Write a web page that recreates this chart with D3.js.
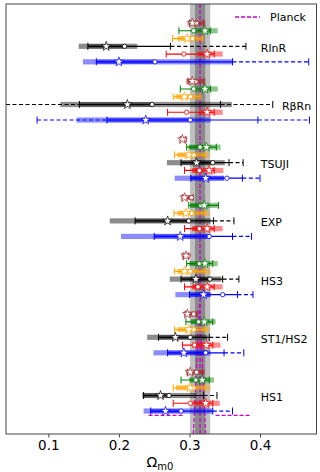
<!DOCTYPE html>
<html>
<head>
<meta charset="utf-8">
<script src="https://cdn.jsdelivr.net/npm/d3@7"></script>
<style>
  body { margin: 0; background: #fff; }
  text { font-family: "DejaVu Sans", sans-serif; }
</style>
</head>
<body>
<div id="chart"></div>
<script>
// groups top to bottom, series inside each group top to bottom
var groups = ["RlnR", "R\u03b2Rn", "TSUJI", "EXP", "HS3", "ST1/HS2", "HS1"];
var seriesNames = ["brown", "green", "orange", "black", "red", "blue"];
var xTicks = [0.1, 0.2, 0.3, 0.4];

// planck value and 1 sigma
var planckMean = 0.3150;
var planckSig = 0.0072;

// [series][group]
var starVals = [
  [0.304, 0.304, 0.290, 0.293, 0.295, 0.297, 0.301],
  [0.322, 0.322, 0.324, 0.321, 0.322, 0.321, 0.318],
  [0.297, 0.293, 0.299, 0.295, 0.293, 0.299, 0.301],
  [0.182, 0.212, 0.310, 0.269, 0.309, 0.280, 0.259],
  [0.325, 0.325, 0.328, 0.325, 0.325, 0.324, 0.323],
  [0.200, 0.238, 0.323, 0.287, 0.320, 0.292, 0.266]
];
var circVals = [
  [0.310, 0.309, 0.293, 0.303, 0.298, 0.306, 0.310],
  [0.306, 0.306, 0.315, 0.316, 0.314, 0.313, 0.309],
  [0.304, 0.301, 0.306, 0.303, 0.301, 0.306, 0.306],
  [0.208, 0.247, 0.333, 0.299, 0.329, 0.301, 0.271],
  [0.292, 0.296, 0.314, 0.314, 0.312, 0.307, 0.301],
  [0.251, 0.301, 0.353, 0.328, 0.347, 0.323, 0.288]
];
var bandLo = [
  [0.297, 0.295, 0.286, 0.288, 0.289, 0.292, 0.295],
  [0.306, 0.306, 0.299, 0.301, 0.300, 0.302, 0.300],
  [0.283, 0.280, 0.283, 0.283, 0.283, 0.283, 0.281],
  [0.143, 0.117, 0.268, 0.187, 0.272, 0.240, 0.233],
  [0.311, 0.313, 0.304, 0.304, 0.304, 0.304, 0.304],
  [0.149, 0.140, 0.279, 0.203, 0.280, 0.249, 0.235]
];
var bandHi = [
  [0.323, 0.323, 0.296, 0.306, 0.300, 0.312, 0.322],
  [0.340, 0.340, 0.344, 0.340, 0.340, 0.337, 0.335],
  [0.320, 0.317, 0.328, 0.328, 0.330, 0.328, 0.330],
  [0.226, 0.360, 0.350, 0.330, 0.345, 0.325, 0.310],
  [0.347, 0.347, 0.348, 0.347, 0.347, 0.344, 0.343],
  [0.361, 0.330, 0.349, 0.330, 0.330, 0.330, 0.333]
];
var capLo = [
  [0.300, 0.298, 0.287, 0.290, 0.291, 0.294, 0.297],
  [0.285, 0.287, 0.296, 0.299, 0.296, 0.295, 0.288],
  [0.276, 0.277, 0.279, 0.278, 0.279, 0.279, 0.277],
  [0.156, 0.144, 0.288, 0.223, 0.288, 0.256, 0.235],
  [0.267, 0.269, 0.293, 0.293, 0.293, 0.290, 0.277],
  [0.168, 0.183, 0.302, 0.250, 0.300, 0.269, 0.245]
];
var solidHi = [
  [0.320, 0.320, 0.295, 0.305, 0.299, 0.311, 0.318],
  [0.330, 0.330, 0.338, 0.341, 0.333, 0.333, 0.328],
  [0.318, 0.315, 0.322, 0.322, 0.322, 0.322, 0.322],
  [0.273, 0.344, 0.356, 0.334, 0.347, 0.328, 0.320],
  [0.335, 0.335, 0.335, 0.335, 0.335, 0.333, 0.333],
  [0.361, 0.397, 0.375, 0.361, 0.368, 0.349, 0.333]
];
// dashed extensions, only black and blue
var dashHi = [
  [null, null, null, null, null, null, null],
  [null, null, null, null, null, null, null],
  [null, null, null, null, null, null, null],
  [0.380, 0.418, 0.376, 0.363, 0.370, 0.354, 0.339],
  [null, null, null, null, null, null, null],
  [0.469, 0.470, 0.400, 0.388, 0.390, 0.377, 0.361]
];
var dashLo = [
  [null, null, null, null, null, null, null],
  [null, null, null, null, null, null, null],
  [null, null, null, null, null, null, null],
  [null, 0.040, null, null, null, null, null],
  [null, null, null, null, null, null, null],
  [null, 0.084, null, null, null, null, null]
];

// extra magenta dashed marks in the HS1 block
var magSegLo = [0.242, 0.337];
var magSegHi = [0.292, 0.387];
var magSpikeX = [0.3055, 0.3143, 0.3230];
var magSpikeRow = [52.96, 36.1, 52.96];

var colors = {brown: "#a52a2a", green: "#008000", orange: "#ffa500",
  black: "#000000", red: "#ff0000", blue: "#0000ff"};
var magenta = "#cc00cc";

var width = 320, height = 472;
var plotLeft = 6, plotRight = 316.5, plotTop = 4, plotBottom = 434;

var svg = d3.select("#chart").append("svg")
  .attr("width", width)
  .attr("height", height);

var x = d3.scaleLinear().domain([0.04, 0.48]).range([plotLeft, plotRight]);
// y is in "row" units: group g, series s -> g*7.5 + s
var y = d3.scaleLinear().domain([-2.45, 52.96]).range([plotTop, plotBottom]);

svg.append("clipPath").attr("id", "clip")
  .append("rect")
  .attr("x", plotLeft).attr("y", plotTop)
  .attr("width", plotRight - plotLeft).attr("height", plotBottom - plotTop);

var plot = svg.append("g").attr("clip-path", "url(#clip)");

// planck bands
plot.append("rect")
  .attr("x", x(planckMean - 2 * planckSig))
  .attr("width", x(planckMean + 2 * planckSig) - x(planckMean - 2 * planckSig))
  .attr("y", plotTop).attr("height", plotBottom - plotTop)
  .attr("fill", "#bfbfbf");
plot.append("rect")
  .attr("x", x(planckMean - planckSig))
  .attr("width", x(planckMean + planckSig) - x(planckMean - planckSig))
  .attr("y", plotTop).attr("height", plotBottom - plotTop)
  .attr("fill", "#8a8a8a");
plot.append("line")
  .attr("x1", x(planckMean)).attr("x2", x(planckMean))
  .attr("y1", plotTop).attr("y2", plotBottom)
  .attr("stroke", magenta).attr("stroke-width", 1.3)
  .attr("stroke-dasharray", "4,2");

var spike = d3.line()
  .x(function(d) { return x(d[0]); })
  .y(function(d) { return y(d[1]); });
plot.append("path")
  .attr("d", spike(magSpikeX.map(function(v, i) { return [v, magSpikeRow[i]]; })))
  .attr("fill", "none")
  .attr("stroke", magenta).attr("stroke-width", 1.2)
  .attr("stroke-dasharray", "4,2");

// build rows
var rows = [];
seriesNames.forEach(function(name, s) {
  groups.forEach(function(gname, g) {
    rows.push({
      color: colors[name],
      row: g * 7.5 + s,
      star: starVals[s][g], circ: circVals[s][g],
      bLo: bandLo[s][g], bHi: bandHi[s][g],
      cLo: capLo[s][g], sHi: solidHi[s][g],
      dLo: dashLo[s][g], dHi: dashHi[s][g]
    });
  });
});

var rowG = plot.selectAll("g.row").data(rows).enter().append("g")
  .attr("class", "row")
  .attr("transform", function(d) { return "translate(0," + y(d.row) + ")"; });

// wide translucent band
rowG.append("rect")
  .attr("x", function(d) { return x(d.bLo); })
  .attr("width", function(d) { return x(d.bHi) - x(d.bLo); })
  .attr("y", -2.6).attr("height", 5.2)
  .attr("fill", function(d) { return d.color; })
  .attr("opacity", 0.45);

// darker inner part between cap and circle
rowG.filter(function(d) { return Math.min(d.bHi, d.circ) > Math.max(d.bLo, d.cLo); })
  .append("rect")
  .attr("x", function(d) { return x(Math.max(d.bLo, d.cLo)); })
  .attr("width", function(d) { return x(Math.min(d.bHi, d.circ)) - x(Math.max(d.bLo, d.cLo)); })
  .attr("y", -2.2).attr("height", 4.4)
  .attr("fill", function(d) { return d.color; })
  .attr("opacity", 0.45);

// solid error line
rowG.append("line")
  .attr("x1", function(d) { return x(d.cLo); })
  .attr("x2", function(d) { return x(d.sHi); })
  .attr("stroke", function(d) { return d.color; })
  .attr("stroke-width", 1.2);

// caps
rowG.selectAll("line.cap")
  .data(function(d) {
    var c = [d.cLo, d.sHi];
    if (d.dHi != null) c.push(d.dHi);
    if (d.dLo != null && d.dLo > 0.045) c.push(d.dLo);
    return c.map(function(v) { return {v: v, color: d.color}; });
  })
  .enter().append("line")
  .attr("class", "cap")
  .attr("x1", function(c) { return x(c.v); })
  .attr("x2", function(c) { return x(c.v); })
  .attr("y1", -3.5).attr("y2", 3.5)
  .attr("stroke", function(c) { return c.color; })
  .attr("stroke-width", 1);

// dashed extensions
rowG.filter(function(d) { return d.dHi != null; })
  .append("line")
  .attr("x1", function(d) { return x(d.sHi); })
  .attr("x2", function(d) { return x(d.dHi); })
  .attr("stroke", function(d) { return d.color; })
  .attr("stroke-width", 1.2)
  .attr("stroke-dasharray", "4,2.5");
rowG.filter(function(d) { return d.dLo != null; })
  .append("line")
  .attr("x1", function(d) { return x(d.dLo); })
  .attr("x2", function(d) { return x(d.cLo); })
  .attr("stroke", function(d) { return d.color; })
  .attr("stroke-width", 1.2)
  .attr("stroke-dasharray", "4,2.5");

// markers
rowG.append("circle")
  .attr("cx", function(d) { return x(d.circ); })
  .attr("r", 2.2)
  .attr("fill", "#fff")
  .attr("stroke", function(d) { return d.color; })
  .attr("stroke-width", 0.8);
rowG.append("path")
  .attr("d", d3.symbol().type(d3.symbolStar).size(28))
  .attr("transform", function(d) { return "translate(" + x(d.star) + ",0)"; })
  .attr("fill", "#fff")
  .attr("stroke", function(d) { return d.color; })
  .attr("stroke-width", 0.7);

// magenta segments just below the HS1 blue row
var hsRow = 6 * 7.5 + 5.55;
magSegLo.forEach(function(lo, i) {
  plot.append("line")
    .attr("x1", x(lo)).attr("x2", x(magSegHi[i]))
    .attr("y1", y(hsRow)).attr("y2", y(hsRow))
    .attr("stroke", magenta).attr("stroke-width", 1.3)
    .attr("stroke-dasharray", "4,2");
});

// group labels, placed to the right of the black row dashes
svg.selectAll("text.glabel").data(groups).enter().append("text")
  .attr("class", "glabel")
  .attr("x", function(d, g) { return x(Math.max(0.401, dashHi[3][g] + 0.013)); })
  .attr("y", function(d, g) { return y(g * 7.5 + 3) + 5.5; })
  .attr("font-size", "11px")
  .text(function(d) { return d; });

// legend
svg.append("line")
  .attr("x1", 235).attr("x2", 260).attr("y1", 17).attr("y2", 17)
  .attr("stroke", magenta).attr("stroke-width", 1.3)
  .attr("stroke-dasharray", "4,2");
svg.append("text")
  .attr("x", 270).attr("y", 21)
  .attr("font-size", "11px")
  .text("Planck");

// frame
svg.append("rect")
  .attr("x", plotLeft).attr("y", plotTop)
  .attr("width", plotRight - plotLeft).attr("height", plotBottom - plotTop)
  .attr("fill", "none")
  .attr("stroke", "#444").attr("stroke-width", 1);

// x axis
var xAxis = svg.append("g")
  .attr("transform", "translate(0," + plotBottom + ")")
  .call(d3.axisBottom(x).tickValues(xTicks).tickSize(3.5).tickFormat(d3.format(".1f")));
xAxis.select(".domain").remove();
xAxis.selectAll("text")
  .attr("font-size", "13.5px")
  .attr("font-family", "DejaVu Sans, sans-serif")
  .attr("fill", "#000");
xAxis.selectAll("line").attr("stroke", "#444");

var xl = svg.append("text")
  .attr("x", 160).attr("y", 467)
  .attr("text-anchor", "middle")
  .attr("font-size", "14px");
xl.append("tspan").text("\u03a9");
xl.append("tspan").attr("font-size", "10px").attr("dy", "3").text("m0");
</script>
</body>
</html>
